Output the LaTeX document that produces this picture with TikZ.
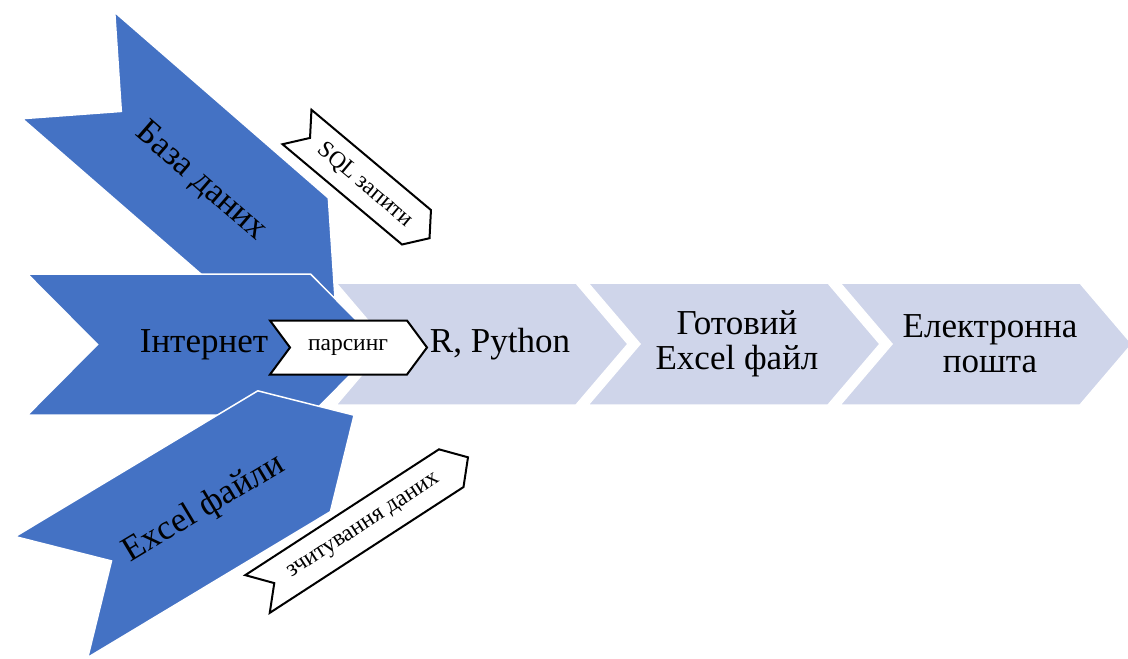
\documentclass[tikz,border=0pt]{standalone}
\usepackage{fontspec}
\setmainfont{Liberation Serif}
\definecolor{chblue}{HTML}{4472C4}
\definecolor{chlight}{HTML}{CFD5EA}
\tikzset{
	pics/chev/.style args={#1/#2/#3}{code={
		\path[pic actions] (0,-#2) -- (#1,-#2) -- (#1+#3,0) -- (#1,#2) -- (0,#2) -- (#3,0) -- cycle;
	}},
	lightchev/.style={fill=chlight, draw=white, line width=1.5pt},
	bluechev/.style={fill=chblue, draw=white, line width=1.5pt},
	smallchev/.style={fill=white, draw=black, line width=2pt},
	bigtxt/.style={font=\fontsize{35}{35}\selectfont, align=center, inner sep=0pt},
	smalltxt/.style={font=\fontsize{23.5}{25}\selectfont, inner sep=0pt}
}

\begin{document}
\begin{tikzpicture}[x=1pt, y=-1pt]
	\useasboundingbox (0,0) rectangle (1128,659);
	% process chain
	\foreach \xx in {336, 588, 840}
		\pic[lightchev] at (\xx,344) {chev=240/61/52};
	\node[bigtxt] (rpy) at (500,344) {R, Python};
	\node[bigtxt] (xfile) at (737,344) {Готовий\\Excel файл};
	\node[bigtxt] (mail) at (990,344) {Електронна\\пошта};
	% sources
	\pic[bluechev, rotate=-41] at (68.5,65.5) {chev=283/70.5/70};
	\node[bigtxt, rotate=-41] (db) at (201,182) {База даних};
	\pic[bluechev] at (27.5,344.5) {chev=283/70.5/70};
	\node[bigtxt] (web) at (204,345) {Інтернет};
	\pic[bluechev, rotate=31] at (51.5,597) {chev=283/70.5/70};
	\node[bigtxt, rotate=31] (xls) at (204,509) {Excel файли};
	% small arrows
	\pic[smallchev, rotate=-40] at (297,127) {chev=156/22.5/17};
	\node[smalltxt, rotate=-40] (sql) at (365,185) {SQL запити};
	\pic[smallchev] at (270,347.5) {chev=137/27/20};
	\node[smalltxt] (pars) at (348,347) {парсинг};
	\pic[smallchev, rotate=33] at (257.5,594) {chev=231/22.5/20};
	\node[smalltxt, rotate=33] (read) at (364,527) {зчитування даних};
\end{tikzpicture}
\end{document}
